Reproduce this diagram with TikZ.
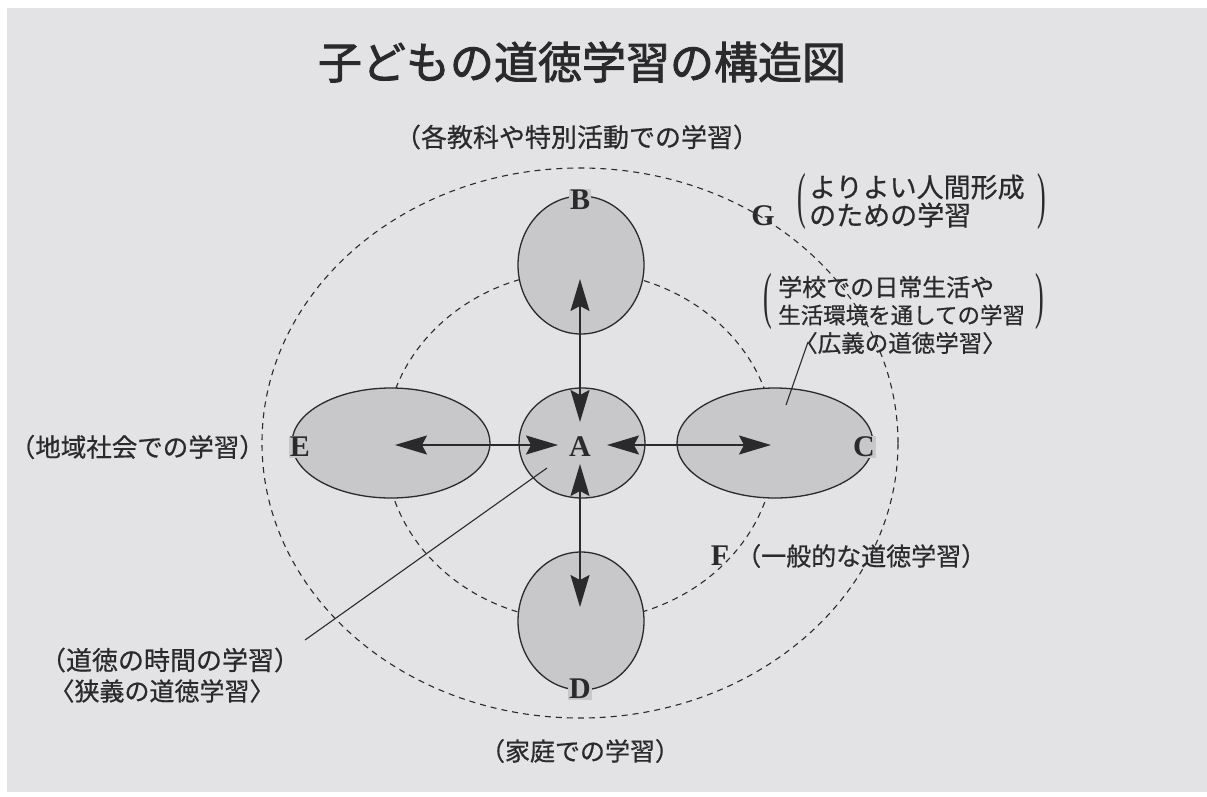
\documentclass[tikz,border=0pt]{standalone}
\usepackage{fontspec}
\usepackage{graphicx}
\setmainfont{Liberation Serif}
\newfontfamily\jp[FakeBold=0.6]{Noto Sans CJK JP}
\newfontfamily\jptitle[FakeBold=2]{Noto Sans CJK JP}
\usetikzlibrary{arrows.meta,shapes.geometric}
\definecolor{paper}{HTML}{E3E3E5}
\definecolor{ink}{HTML}{2A2A2C}
\definecolor{blob}{HTML}{C8C8CA}
\tikzset{
  jt/.style={font=\jp\fontsize{#1}{#1}\selectfont, text=ink, inner sep=0pt},
  jt/.default=25,
  letter/.style={font=\bfseries\fontsize{30}{30}\selectfont, text=ink, inner sep=0.8pt},
  dashring/.style={ellipse, draw=ink, line width=1.1pt, dash pattern=on 6pt off 5pt, inner sep=0pt},
  blobshape/.style={ellipse, draw=ink, line width=1.3pt, fill=blob, inner sep=0pt},
  tipA/.tip={Stealth[length=32pt,width=19pt,inset=5pt]},
  dbl/.style={draw=ink, line width=1.5pt, tipA-tipA},
  leader/.style={draw=ink, line width=1.1pt},
  bigparen/.style={font=\fontsize{26}{26}\selectfont, text=ink, inner sep=0pt}
}
\begin{document}
\begin{tikzpicture}[x=1pt,y=-1pt]
\useasboundingbox (0,0) rectangle (1207,796);
\fill[white] (0,0) rectangle (1207,796);
\fill[paper] (7,8) rectangle (1207,792);

% dashed rings
\node[dashring, minimum width=636pt, minimum height=550pt] (G) at (580,443) {};
\node[dashring, minimum width=390pt, minimum height=350pt] (F) at (580,446) {};

% ellipses
\node[blobshape, minimum width=126pt, minimum height=138pt] (Bell) at (581,265) {};
\node[blobshape, minimum width=126pt, minimum height=138pt] (Dell) at (581,621) {};
\node[blobshape, minimum width=198pt, minimum height=110pt] (Eell) at (391,443) {};
\node[blobshape, minimum width=196pt, minimum height=110pt] (Cell) at (775,443) {};
\node[blobshape, minimum width=126pt, minimum height=110pt] (Aell) at (582,443) {};

% arrows
\coordinate (bt) at (580,279);
\coordinate (ab) at (580,422);
\coordinate (at) at (580,464);
\coordinate (dt) at (580,607);
\coordinate (et) at (395,445);
\coordinate (ae) at (558,445);
\coordinate (ac) at (607,445);
\coordinate (ct) at (771,445);
\draw[dbl] (bt) -- (ab);
\draw[dbl] (at) -- (dt);
\draw[dbl] (et) -- (ae);
\draw[dbl] (ac) -- (ct);

% leader lines
\coordinate (la1) at (547,468);
\coordinate (la2) at (305,640);
\draw[leader] (la1) -- (la2);
\coordinate (lc1) at (786,405);
\coordinate (lc2) at (808,342);
\draw[leader] (lc1) -- (lc2);

% letters
\node[letter] (A) at (580,447) {A};
\node[letter, fill=blob] (B) at (580,200) {B};
\node[letter, fill=blob] (C) at (864,447) {C};
\node[letter, fill=blob] (D) at (580,689) {D};
\node[letter, fill=blob] (E) at (300,447) {E};
\node[letter] (Fl) at (720,556) {F};
\node[letter] (Gl) at (763,216) {G};

% title
\node[font=\jptitle\fontsize{44}{44}\selectfont, text=ink, inner sep=0pt] (title) at (582,62) {子どもの道徳学習の構造図};

% labels
\node[jt=26] (tB) at (577,137) {（各教科や特別活動での学習）};
\node[jt=25] (tD) at (580,751) {（家庭での学習）};
\node[jt=25.5, anchor=east] (tE) at (265,447) {（地域社会での学習）};
\node[jt=25, anchor=west] (tF) at (736,556) {（一般的な道徳学習）};
\node[jt=26] (tA1) at (170,660) {（道徳の時間の学習）};
\node[jt=25] (tA2) at (162,691) {〈狭義の道徳学習〉};

% G text
\node[bigparen] (gpl) at (802,201) {\scalebox{1}[2.4]{(}};
\node[jt=27, anchor=west] (tG1) at (809,187) {よりよい人間形成};
\node[jt=27, anchor=west] (tG2) at (809,215) {のための学習};
\node[bigparen] (gpr) at (1042,201) {\scalebox{1}[2.4]{)}};

% C text
\node[bigparen] (cpl) at (768,301) {\scalebox{1}[2.4]{(}};
\node[jt=24, anchor=west] (tC1) at (778,287) {学校での日常生活や};
\node[jt=22.5, anchor=west] (tC2) at (778,315) {生活環境を通しての学習};
\node[bigparen] (cpr) at (1040,301) {\scalebox{1}[2.4]{)}};
\node[jt=23.5] (tC3) at (900,343) {〈広義の道徳学習〉};
\end{tikzpicture}
\end{document}
